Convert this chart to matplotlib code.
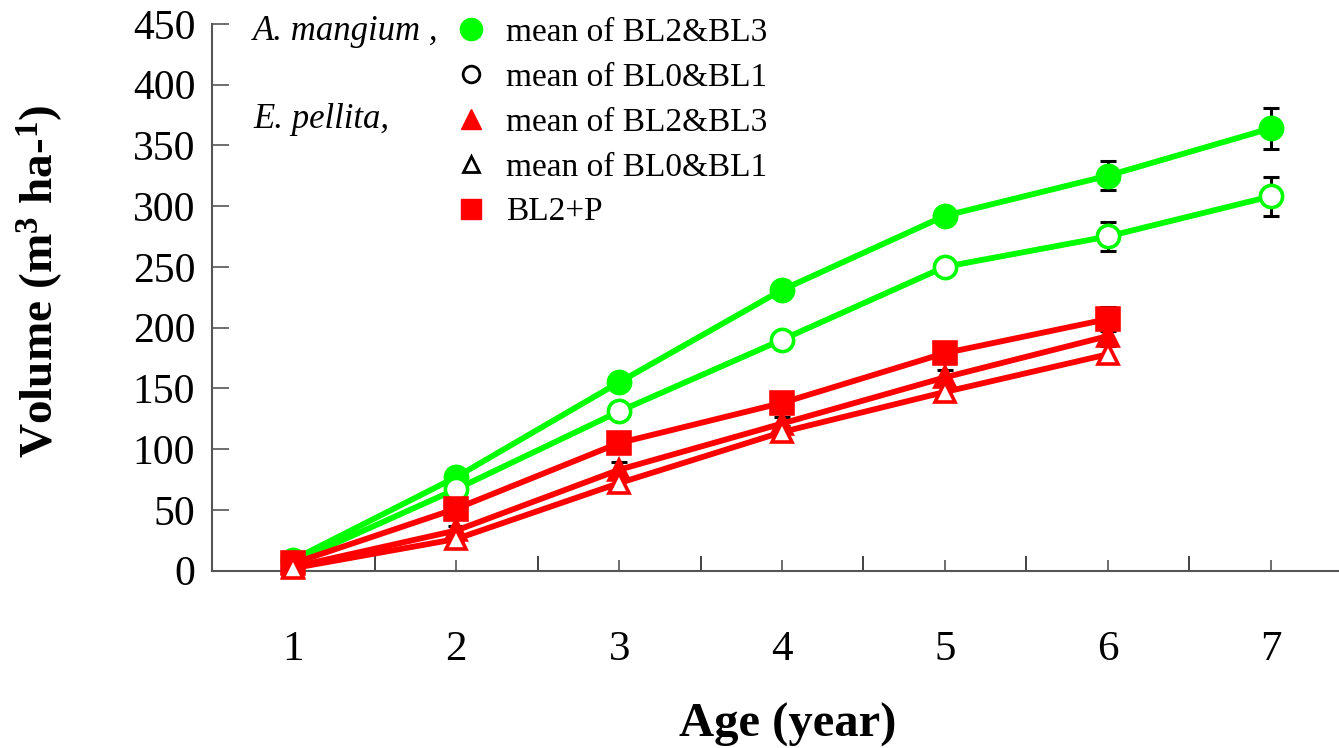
import matplotlib
matplotlib.use("Agg")
import matplotlib.pyplot as plt
from matplotlib.lines import Line2D

plt.rcParams["font.family"] = "Liberation Serif"
plt.rcParams["mathtext.fontset"] = "custom"
plt.rcParams["mathtext.rm"] = "Liberation Serif:bold"
plt.rcParams["mathtext.default"] = "rm"

GREEN = "#00ff00"
RED = "#ff0000"

age_am = [1, 2, 3, 4, 5, 6, 7]
age_ep = [1, 2, 3, 4, 5, 6]

# A. mangium
am_bl23 = [9, 77, 155, 231, 292, 325, 364]
am_bl23_err = [0, 2, 3, 4, 5, 12, 17]
am_bl01 = [7, 67, 131, 190, 250, 275, 308]
am_bl01_err = [0, 2, 3, 4, 5, 12, 16]

# E. pellita
ep_bl23 = [3, 33, 83, 121, 159, 193]
ep_bl23_err = [0, 4, 6, 5, 6, 7]
ep_bl01 = [2, 26, 72, 114, 147, 178]
ep_bl01_err = [0, 3, 4, 5, 5, 7]
ep_bl2p = [6, 51, 105, 138, 179, 207]
ep_bl2p_err = [0, 2, 3, 4, 5, 10]

legend_labels = ["mean of BL2&BL3", "mean of BL0&BL1", "mean of BL2&BL3",
                 "mean of BL0&BL1", "BL2+P"]

fig = plt.figure(figsize=(13.39, 7.48), dpi=100)
ax = fig.add_axes([0.1583, 0.2372, 0.8417, 0.7309])

series = [
    (age_am, am_bl23, am_bl23_err, "o", GREEN, GREEN),
    (age_am, am_bl01, am_bl01_err, "o", "white", GREEN),
    (age_ep, ep_bl2p, ep_bl2p_err, "s", RED, RED),
    (age_ep, ep_bl23, ep_bl23_err, "^", RED, RED),
    (age_ep, ep_bl01, ep_bl01_err, "^", "white", RED),
]

for x, y, err, m, face, col in series:
    ax.errorbar(x, y, yerr=err, fmt="none", ecolor="black", elinewidth=2.2,
                capsize=6, capthick=2.2, zorder=2, clip_on=False)
    ax.plot(x, y, color=col, lw=4.2, marker=m, ms=16 if m != "^" else 15,
            mfc=face, mec=col, mew=2.6, zorder=3, clip_on=False)

ax.set_xlim(0.5, 7.42)
ax.set_ylim(0, 450)

for side in ["top", "right"]:
    ax.spines[side].set_visible(False)
for side in ["left", "bottom"]:
    ax.spines[side].set_color("#555555")
    ax.spines[side].set_linewidth(1.5)

ax.set_yticks(range(0, 451, 50))
ax.set_xticks(range(1, 8))
ax.set_xticks([i + 0.5 for i in range(0, 7)], minor=True)
ax.tick_params(axis="y", direction="in", length=12, width=1.2, color="#555555",
               labelsize=30, pad=12)
ax.tick_params(axis="x", which="major", direction="in", length=8, width=1.2,
               color="#555555", labelsize=31, pad=43)
ax.tick_params(axis="x", which="minor", direction="in", length=11, width=1.2,
               color="#222222")

ax.set_xlabel("Age (year)", fontsize=35, fontweight="bold")
ax.xaxis.set_label_coords(0.511, -0.242)
ax.set_ylabel("Volume (m$^{3}$ ha-$^{1}$)", fontsize=34, fontweight="bold")
ax.yaxis.set_label_coords(-0.13, 0.53)

handles = [
    Line2D([], [], ls="none", marker="o", ms=16, mfc=GREEN, mec=GREEN),
    Line2D([], [], ls="none", marker="o", ms=12, mfc="white", mec="black", mew=2),
    Line2D([], [], ls="none", marker="^", ms=15, mfc=RED, mec=RED),
    Line2D([], [], ls="none", marker="^", ms=12, mfc="white", mec="black", mew=2),
    Line2D([], [], ls="none", marker="s", ms=15, mfc=RED, mec=RED),
]
fig.legend(handles, legend_labels, loc="upper left",
           bbox_to_anchor=(438 / 1339, 1 - 1 / 748), frameon=False,
           fontsize=24, handlelength=1.0, handletextpad=0.55, labelspacing=0.43,
           borderpad=0)

fig.text(253 / 1339, 1 - 31 / 748, "A. mangium ,", fontsize=25, style="italic",
         va="center", ha="left")
fig.text(253 / 1339, 1 - 120 / 748, "E. pellita,", fontsize=25, style="italic",
         va="center", ha="left")

fig.savefig("out.png", dpi=100)
